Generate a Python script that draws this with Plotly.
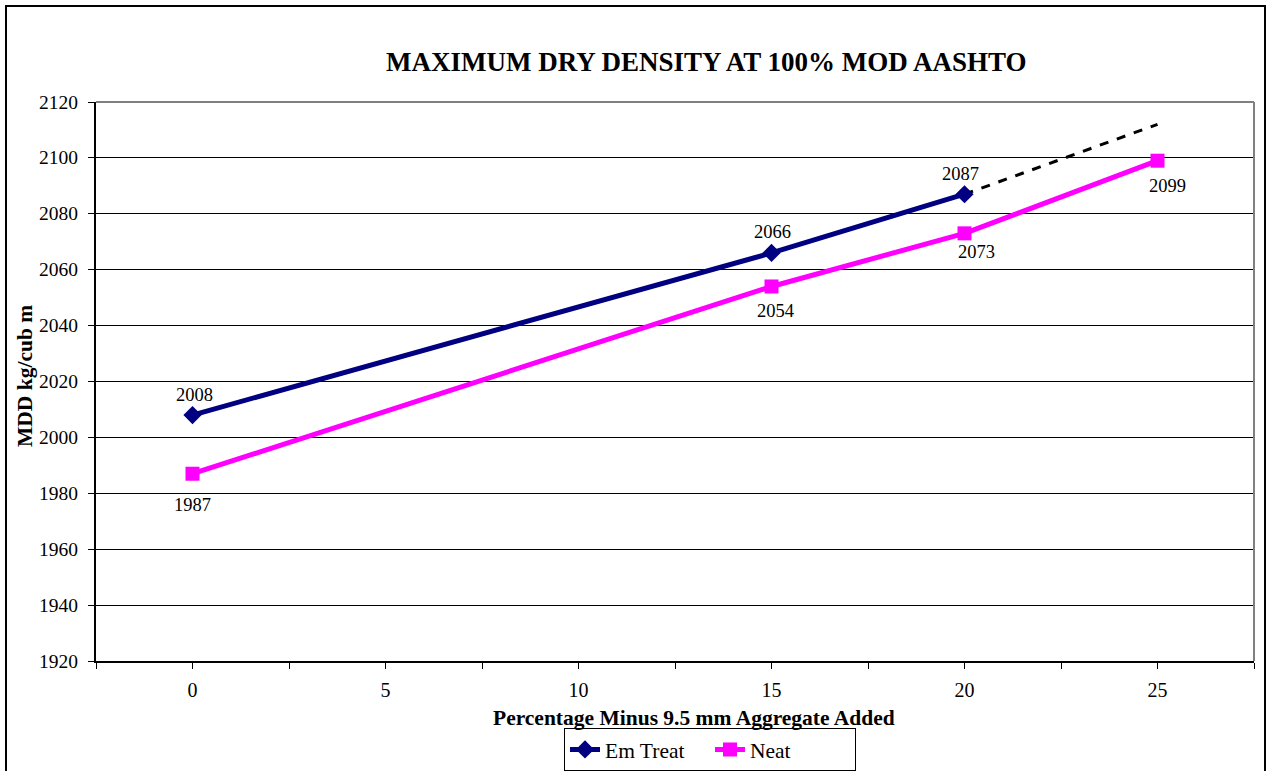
import plotly.graph_objects as go

x_em = [0, 15, 20]
y_em = [2008, 2066, 2087]
x_neat = [0, 15, 20, 25]
y_neat = [1987, 2054, 2073, 2099]
x_trend = [20, 25]
y_trend = [2087, 2112]
x_ticks = [-2.5, 0, 2.5, 5, 7.5, 10, 12.5, 15, 17.5, 20, 22.5, 25, 27.5]
x_ticklabels = ["", "0", "", "5", "", "10", "", "15", "", "20", "", "25", ""]
y_ticks = [1920, 1940, 1960, 1980, 2000, 2020, 2040, 2060, 2080, 2100, 2120]

# label placement offsets (pixels), styling only
em_label_shift = [(2, -20), (1, -21), (-4, -20)]
neat_label_shift = [(0, 31), (4, 25), (12, 19), (10, 25)]

FONT = "Liberation Serif"
L, R, T, B = 96, 1254, 102, 661
W, H = R - L, B - T


def px(xp):
    return (xp - L) / W


def py(yp):
    return (B - yp) / H


fig = go.Figure()
fig.add_trace(go.Scatter(
    x=x_trend, y=y_trend, mode="lines", showlegend=False, hoverinfo="skip",
    line=dict(color="black", width=3, dash="dash")))
fig.add_trace(go.Scatter(
    x=x_em, y=y_em, name="Em Treat", mode="lines+markers",
    line=dict(color="#000080", width=5),
    marker=dict(symbol="diamond", size=14, color="#000080")))
fig.add_trace(go.Scatter(
    x=x_neat, y=y_neat, name="Neat", mode="lines+markers",
    line=dict(color="#FF00FF", width=5),
    marker=dict(symbol="square", size=14, color="#FF00FF")))

annotations = []
for xv, yv, (dx, dy) in zip(x_em, y_em, em_label_shift):
    annotations.append(dict(x=xv, y=yv, xref="x", yref="y", text=str(yv), showarrow=False,
                            xshift=dx, yshift=-dy, xanchor="center", yanchor="middle",
                            font=dict(family=FONT, size=18.5, color="black")))
for xv, yv, (dx, dy) in zip(x_neat, y_neat, neat_label_shift):
    annotations.append(dict(x=xv, y=yv, xref="x", yref="y", text=str(yv), showarrow=False,
                            xshift=dx, yshift=-dy, xanchor="center", yanchor="middle",
                            font=dict(family=FONT, size=18.5, color="black")))

# y tick labels (right-aligned, further from the axis than plotly's default)
for yv in y_ticks:
    annotations.append(dict(x=px(80), y=yv, xref="paper", yref="y", text=str(yv),
                            showarrow=False, xanchor="right", yanchor="middle",
                            font=dict(family=FONT, size=19.5, color="black")))

annotations += [
    dict(text="<b>MAXIMUM DRY DENSITY AT 100% MOD AASHTO</b>", xref="paper", yref="paper",
         x=px(707), y=py(62), xanchor="center", yanchor="middle",
         showarrow=False, font=dict(family=FONT, size=27)),
    dict(text="<b>Percentage Minus 9.5 mm Aggregate Added</b>", xref="paper", yref="paper",
         x=px(694), y=py(718), xanchor="center", yanchor="middle",
         showarrow=False, font=dict(family=FONT, size=21.5)),
    dict(text="<b>MDD kg/cub m</b>", xref="paper", yref="paper", textangle=-90,
         x=px(25), y=py(376), xanchor="center", yanchor="middle",
         showarrow=False, font=dict(family=FONT, size=21.5)),
]

fig.update_layout(
    width=1270, height=771,
    margin=dict(l=L, r=1270 - R, t=T, b=771 - B, autoexpand=False),
    paper_bgcolor="white", plot_bgcolor="white",
    font=dict(family=FONT, size=20, color="black"),
    showlegend=True,
    legend=dict(orientation="h", x=px(564), y=py(749.5), xanchor="left", yanchor="middle",
                bordercolor="black", borderwidth=1, font=dict(family=FONT, size=21.5),
                bgcolor="white", entrywidth=100, entrywidthmode="pixels"),
    xaxis=dict(range=[-2.5, 27.5], tickvals=x_ticks, ticktext=x_ticklabels,
               ticks="outside", ticklen=6, tickcolor="black", showgrid=False,
               showline=True, linecolor="black", linewidth=2,
               zeroline=False, tickfont=dict(family=FONT, size=20), ticklabelstandoff=4),
    yaxis=dict(range=[1920, 2120], tickvals=y_ticks, showticklabels=False,
               ticks="outside", ticklen=6, tickcolor="black",
               showgrid=True, gridcolor="black", gridwidth=1,
               showline=True, linecolor="black", linewidth=2,
               zeroline=False),
    annotations=annotations,
    shapes=[
        dict(type="line", xref="paper", yref="paper", x0=0, x1=1, y0=1, y1=1,
             line=dict(color="#808080", width=2)),
        dict(type="line", xref="paper", yref="paper", x0=1, x1=1, y0=0, y1=1,
             line=dict(color="#808080", width=2)),
        dict(type="rect", xref="paper", yref="paper",
             x0=px(6), x1=px(1265), y0=py(790), y1=py(6),
             line=dict(color="black", width=2), layer="below"),
    ],
)

fig.write_html("out.html")
